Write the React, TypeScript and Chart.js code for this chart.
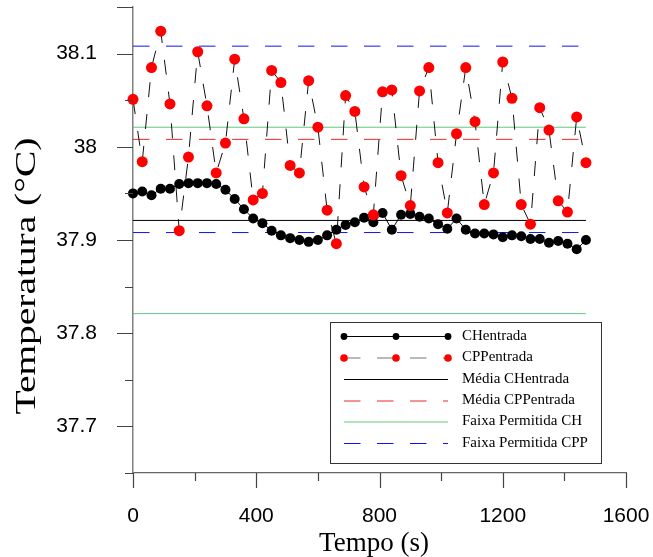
import { useEffect, useRef } from 'react';
import { Chart, registerables } from 'chart.js';

Chart.register(...registerables);

const times = [0, 30, 60, 90, 120, 150, 180, 210, 240, 270, 300, 330, 360, 390, 420, 450, 480, 510, 540, 570, 600, 630, 660, 690, 720, 750, 780, 810, 840, 870, 900, 930, 960, 990, 1020, 1050, 1080, 1110, 1140, 1170, 1200, 1230, 1260, 1290, 1320, 1350, 1380, 1410, 1440, 1470];

const chEntrada = [37.950, 37.952, 37.948, 37.955, 37.955, 37.960, 37.961, 37.961, 37.961, 37.960, 37.954, 37.944, 37.933, 37.923, 37.918, 37.910, 37.905, 37.902, 37.900, 37.898, 37.900, 37.905, 37.911, 37.916, 37.919, 37.924, 37.919, 37.929, 37.911, 37.927, 37.928, 37.925, 37.923, 37.917, 37.912, 37.923, 37.911, 37.907, 37.907, 37.906, 37.903, 37.905, 37.904, 37.901, 37.901, 37.897, 37.899, 37.896, 37.890, 37.900];

const cppEntrada = [38.051, 37.984, 38.085, 38.124, 38.046, 37.910, 37.989, 38.102, 38.044, 37.972, 38.004, 38.094, 38.030, 37.943, 37.950, 38.082, 38.069, 37.980, 37.972, 38.071, 38.021, 37.932, 37.896, 38.055, 38.038, 37.957, 37.927, 38.059, 38.061, 37.969, 37.937, 38.060, 38.085, 37.983, 37.929, 38.014, 38.085, 38.027, 37.938, 37.972, 38.091, 38.052, 37.938, 37.917, 38.042, 38.018, 37.942, 37.930, 38.032, 37.983];

const mediaCH = 37.921;
const mediaCPP = 38.008;
const faixaCH = [37.821, 38.021];
const faixaCPP = [37.908, 38.108];

const xTickLabels = ['0', '400', '800', '1200', '1600'];
const yTickLabels = ['37.7', '37.8', '37.9', '38', '38.1'];
const legendLabels = ['CHentrada', 'CPPentrada', 'Média CHentrada', 'Média CPPentrada', 'Faixa Permitida CH', 'Faixa Permitida CPP'];
const xTitle = 'Tempo (s)';
const yTitle = 'Temperatura (°C)';

const RED = '#ff0000';
const RED_LINE = '#e82828';
const GREEN = '#5ec97f';
const BLUE = '#1414f0';
const SANS = '"Liberation Sans", Arial, sans-serif';
const SERIF = '"Liberation Serif", "Times New Roman", serif';

const hLine = (v: number) => [
  { x: times[0], y: v },
  { x: times[times.length - 1], y: v },
];

const ticksPlugin = {
  id: 'customTicks',
  afterDraw(chart: any) {
    const { ctx, chartArea, scales } = chart;
    const xs = scales.x;
    const ys = scales.y;
    ctx.save();
    ctx.strokeStyle = '#444';
    ctx.lineWidth = 1.2;
    ctx.beginPath();
    xs.ticks.forEach((t: any) => {
      const px = Math.round(xs.getPixelForValue(t.value)) + 0.5;
      const len = t.label !== '' ? 15 : 8;
      ctx.moveTo(px, chartArea.bottom);
      ctx.lineTo(px, chartArea.bottom + len);
    });
    ys.ticks.forEach((t: any) => {
      const py = Math.round(ys.getPixelForValue(t.value)) + 0.5;
      const major = t.label !== '' || Math.abs(t.value - ys.max) < 1e-9;
      const len = major ? 16 : 8;
      ctx.moveTo(chartArea.left, py);
      ctx.lineTo(chartArea.left - len, py);
    });
    ctx.stroke();
    ctx.restore();
  },
};

const titlesPlugin = {
  id: 'axisTitles',
  afterDraw(chart: any) {
    const { ctx } = chart;
    ctx.save();
    ctx.fillStyle = '#000';
    ctx.textAlign = 'center';
    ctx.textBaseline = 'middle';
    ctx.font = `27px ${SERIF}`;
    ctx.fillText(xTitle, 374, 544);
    ctx.translate(27, 276);
    ctx.rotate(-Math.PI / 2);
    ctx.scale(1.36, 1);
    ctx.font = `29px ${SERIF}`;
    ctx.fillText(yTitle, 0, 0);
    ctx.restore();
  },
};

const legendPlugin = {
  id: 'boxLegend',
  afterDraw(chart: any) {
    const { ctx } = chart;
    const bx = 330.5, by = 322.5, bw = 271, bh = 141;
    const x0 = 344, x1 = 448, xm = 396, tx = 462;
    const rows = [336, 357.5, 379, 400.5, 421.5, 443];
    ctx.save();
    ctx.fillStyle = '#fff';
    ctx.fillRect(bx, by, bw, bh);
    ctx.strokeStyle = '#333';
    ctx.lineWidth = 1;
    ctx.strokeRect(bx, by, bw, bh);

    const line = (y: number, color: string, dash: number[], w = 1) => {
      ctx.save();
      ctx.strokeStyle = color;
      ctx.lineWidth = w;
      ctx.setLineDash(dash);
      ctx.beginPath();
      ctx.moveTo(x0, y + 0.5);
      ctx.lineTo(x1, y + 0.5);
      ctx.stroke();
      ctx.restore();
    };
    const dots = (y: number, color: string, r: number) => {
      ctx.fillStyle = color;
      [x0, xm, x1].forEach((x) => {
        ctx.beginPath();
        ctx.arc(x, y + 0.5, r, 0, Math.PI * 2);
        ctx.fill();
      });
    };
    line(rows[0], '#000', []);
    dots(rows[0], '#000', 3.4);
    line(rows[1], '#777', [16.5, 16.5], 1.2);
    dots(rows[1], RED, 3.8);
    line(rows[2], '#000', []);
    line(rows[3], RED_LINE, [16.5, 16.5]);
    line(rows[4], GREEN, []);
    line(rows[5], BLUE, [16.5, 16.5]);

    ctx.fillStyle = '#000';
    ctx.font = `15px ${SERIF}`;
    ctx.textAlign = 'left';
    ctx.textBaseline = 'middle';
    legendLabels.forEach((l, i) => ctx.fillText(l, tx, rows[i]));
    ctx.restore();
  },
};

const noPad = (s: any) => {
  s.paddingTop = 0;
  s.paddingBottom = 0;
  s.paddingLeft = 0;
  s.paddingRight = 0;
};

export default function App() {
  const ref = useRef<HTMLCanvasElement | null>(null);

  useEffect(() => {
    if (!ref.current) return;
    const chart = new Chart(ref.current, {
      type: 'line',
      data: {
        datasets: [
          {
            label: legendLabels[0],
            data: times.map((t, i) => ({ x: t, y: chEntrada[i] })),
            borderColor: '#000',
            borderWidth: 1,
            pointRadius: 5,
            pointBackgroundColor: '#000',
            pointBorderWidth: 0,
            tension: 0,
            clip: false,
            order: 1,
          },
          {
            label: legendLabels[1],
            data: times.map((t, i) => ({ x: t, y: cppEntrada[i] })),
            borderColor: '#111',
            borderWidth: 1,
            borderDash: [15, 17],
            pointRadius: 5.5,
            pointBackgroundColor: RED,
            pointBorderWidth: 0,
            tension: 0,
            clip: false,
            order: 0,
          },
          {
            label: legendLabels[2],
            data: hLine(mediaCH),
            borderColor: '#000',
            borderWidth: 1,
            pointRadius: 0,
            order: 2,
          },
          {
            label: legendLabels[3],
            data: hLine(mediaCPP),
            borderColor: RED_LINE,
            borderWidth: 1,
            borderDash: [16.5, 16.5],
            pointRadius: 0,
            order: 2,
          },
          {
            label: legendLabels[4],
            data: hLine(faixaCH[0]),
            borderColor: GREEN,
            borderWidth: 1,
            pointRadius: 0,
            order: 2,
          },
          {
            label: legendLabels[4],
            data: hLine(faixaCH[1]),
            borderColor: GREEN,
            borderWidth: 1,
            pointRadius: 0,
            order: 2,
          },
          {
            label: legendLabels[5],
            data: hLine(faixaCPP[0]),
            borderColor: BLUE,
            borderWidth: 1,
            borderDash: [16.5, 16.5],
            pointRadius: 0,
            order: 2,
          },
          {
            label: legendLabels[5],
            data: hLine(faixaCPP[1]),
            borderColor: BLUE,
            borderWidth: 1,
            borderDash: [16.5, 16.5],
            pointRadius: 0,
            order: 2,
          },
        ],
      },
      options: {
        responsive: false,
        animation: false,
        events: [],
        layout: { padding: { left: 0, right: 27, top: 7, bottom: 0 } },
        plugins: {
          legend: { display: false },
          tooltip: { enabled: false },
          title: { display: false },
        },
        scales: {
          x: {
            type: 'linear',
            min: 0,
            max: 1600,
            afterFit: (s: any) => {
              s.height = 84;
              noPad(s);
            },
            grid: { display: true, drawOnChartArea: false, drawTicks: false },
            border: { display: true, color: '#666', width: 1.2 },
            ticks: {
              stepSize: 200,
              autoSkip: false,
              maxRotation: 0,
              padding: 31,
              color: '#000',
              font: { family: SANS, size: 21 },
              callback: (v: any) => {
                const s = String(v);
                return xTickLabels.includes(s) ? s : '';
              },
            },
          },
          y: {
            type: 'linear',
            min: 37.65,
            max: 38.15,
            afterFit: (s: any) => {
              s.width = 133;
              noPad(s);
            },
            grid: { display: true, drawOnChartArea: false, drawTicks: false },
            border: { display: true, color: '#808080', width: 1.5 },
            ticks: {
              stepSize: 0.05,
              autoSkip: false,
              padding: 36,
              color: '#000',
              font: { family: SANS, size: 21 },
              callback: (v: any) => {
                const s = String(+Number(v).toFixed(2));
                return yTickLabels.includes(s) ? s : '';
              },
            },
          },
        },
      },
      plugins: [ticksPlugin, titlesPlugin, legendPlugin],
    } as any);
    return () => chart.destroy();
  }, []);

  return (
    <div style={{ position: 'absolute', left: 0, top: 0, width: 653, height: 557, background: '#fff' }}>
      <canvas ref={ref} width={653} height={557} style={{ display: 'block' }} />
    </div>
  );
}
